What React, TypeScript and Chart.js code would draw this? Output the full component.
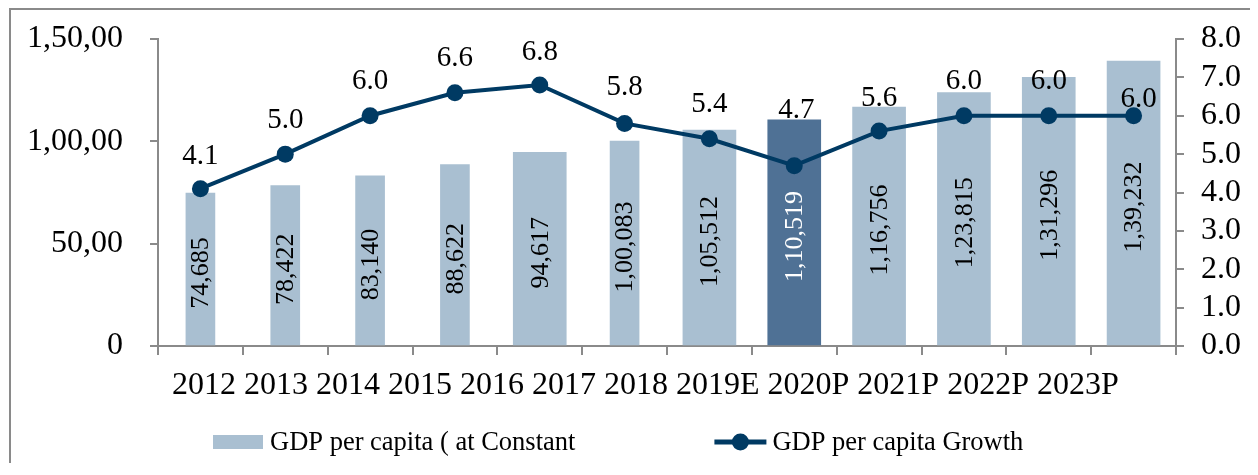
import React, { useEffect, useRef } from 'react';
import { Chart, registerables } from 'chart.js';

Chart.register(...registerables);

// ---------- data ----------
const categories = ['2012', '2013', '2014', '2015', '2016', '2017', '2018', '2019E', '2020P', '2021P', '2022P', '2023P'];
const gdpPerCapita = [74685, 78422, 83140, 88622, 94617, 100083, 105512, 110519, 116756, 123815, 131296, 139232];
const gdpValueLabels = ['74,685', '78,422', '83,140', '88,622', '94,617', '1,00,083', '1,05,512', '1,10,519', '1,16,756', '1,23,815', '1,31,296', '1,39,232'];
const gdpGrowth = [4.1, 5.0, 6.0, 6.6, 6.8, 5.8, 5.4, 4.7, 5.6, 6.0, 6.0, 6.0];
const leftTickValues = [0, 50000, 100000, 150000];
const leftTickText = ['0', '50,00', '1,00,00', '1,50,00'];
const legendLabels = ['GDP per capita ( at Constant', 'GDP per capita Growth'];

// ---------- styles ----------
const narrowBar = [true, true, true, true, false, true, false, false, false, false, false, false];
const highlightIndex = 7;
const LIGHT = '#A9BFD1';
const DARK = '#4F7195';
const NAVY = '#003A63';
const AXIS = '#8a8a8a';
const FONT = '"Liberation Serif", "Times New Roman", serif';
const growthLabelLift = [32, 34, 34, 34, 33, 36, 34, 55, 33, 34, 34, 16];
const growthLabelShift = [0, 0, 0, 0, 0, 0, 0, 2, 0, 0, 0, 5];

const barColors = gdpPerCapita.map((_, i) => (i === highlightIndex ? DARK : LIGHT));

const overlayPlugin = {
  id: 'overlay',
  afterDatasetsDraw(chart: any) {
    const ctx = chart.ctx;
    ctx.save();
    // bar value labels (rotated)
    ctx.font = `26px ${FONT}`;
    ctx.textAlign = 'center';
    ctx.textBaseline = 'middle';
    [0, 1].forEach((di) => {
      const meta = chart.getDatasetMeta(di);
      meta.data.forEach((el: any, i: number) => {
        const v = chart.data.datasets[di].data[i];
        if (v === null || v === undefined) return;
        const cy = (el.y + el.base) / 2 + 4;
        ctx.save();
        ctx.translate(el.x + 1, cy);
        ctx.rotate(-Math.PI / 2);
        ctx.fillStyle = i === highlightIndex ? '#ffffff' : '#000000';
        ctx.fillText(gdpValueLabels[i], 0, 0);
        ctx.restore();
      });
    });
    // growth labels
    const lmeta = chart.getDatasetMeta(2);
    ctx.font = `29px ${FONT}`;
    ctx.fillStyle = '#000000';
    lmeta.data.forEach((pt: any, i: number) => {
      ctx.fillText(gdpGrowth[i].toFixed(1), pt.x + growthLabelShift[i], pt.y - growthLabelLift[i]);
    });
    ctx.restore();
  },
  afterDraw(chart: any) {
    const ctx = chart.ctx;
    const area = chart.chartArea;
    ctx.save();
    // x-axis category labels, set as one line of text
    ctx.font = `32px ${FONT}`;
    ctx.fillStyle = '#000000';
    ctx.textAlign = 'left';
    ctx.textBaseline = 'alphabetic';
    ctx.fillText(categories.join(' '), area.left + 14, area.bottom + 48);

    // legend
    const ly = area.bottom + 96;
    let x = area.left + 55;
    ctx.fillStyle = LIGHT;
    ctx.fillRect(x, ly - 7, 50, 14);
    ctx.font = `26.5px ${FONT}`;
    ctx.fillStyle = '#000000';
    ctx.textBaseline = 'middle';
    ctx.fillText(legendLabels[0], x + 57, ly + 1);
    x = x + 57 + ctx.measureText(legendLabels[0]).width + 139;
    ctx.strokeStyle = NAVY;
    ctx.lineWidth = 5;
    ctx.beginPath();
    ctx.moveTo(x, ly);
    ctx.lineTo(x + 52, ly);
    ctx.stroke();
    ctx.fillStyle = NAVY;
    ctx.beginPath();
    ctx.arc(x + 26, ly, 8.5, 0, Math.PI * 2);
    ctx.fill();
    ctx.fillStyle = '#000000';
    ctx.fillText(legendLabels[1], x + 58, ly + 1);
    ctx.restore();
  },
};

export default function App() {
  const canvasRef = useRef<HTMLCanvasElement | null>(null);

  useEffect(() => {
    if (!canvasRef.current) return;
    const chart = new Chart(canvasRef.current, {
      type: 'bar',
      data: {
        labels: categories,
        datasets: [
          {
            type: 'bar',
            label: legendLabels[0],
            data: gdpPerCapita.map((v, i) => (narrowBar[i] ? v : null)),
            backgroundColor: barColors,
            barThickness: 29,
            grouped: false,
            yAxisID: 'y',
            order: 2,
          },
          {
            type: 'bar',
            label: legendLabels[0],
            data: gdpPerCapita.map((v, i) => (narrowBar[i] ? null : v)),
            backgroundColor: barColors,
            barThickness: 53,
            grouped: false,
            yAxisID: 'y',
            order: 2,
          },
          {
            type: 'line',
            label: legendLabels[1],
            data: gdpGrowth,
            borderColor: NAVY,
            backgroundColor: NAVY,
            borderWidth: 4,
            pointRadius: 8.5,
            pointBackgroundColor: NAVY,
            pointBorderColor: NAVY,
            pointBorderWidth: 0,
            tension: 0,
            yAxisID: 'y1',
            order: 0,
          },
        ],
      } as any,
      options: {
        animation: false,
        responsive: true,
        maintainAspectRatio: false,
        layout: { padding: { top: 29, left: 0, right: 0, bottom: 0 } },
        plugins: {
          legend: { display: false },
          tooltip: { enabled: false },
        },
        scales: {
          x: {
            type: 'category',
            offset: true,
            grid: {
              display: true,
              offset: true,
              drawOnChartArea: false,
              drawTicks: true,
              tickLength: 9,
              color: AXIS,
              lineWidth: 2,
            },
            border: { display: true, color: AXIS, width: 2 },
            ticks: { display: false },
            afterFit: (s: any) => {
              s.height = 129;
              s.paddingLeft = 0;
              s.paddingRight = 0;
            },
          },
          y: {
            position: 'left',
            min: 0,
            max: 150000,
            afterBuildTicks: (s: any) => {
              s.ticks = leftTickValues.map((v) => ({ value: v }));
            },
            ticks: {
              autoSkip: false,
              font: { family: FONT, size: 32, lineHeight: 1 },
              color: '#000000',
              padding: 27,
              callback: (v: any) => {
                const i = leftTickValues.indexOf(Number(v));
                return i >= 0 ? leftTickText[i] : '';
              },
            },
            grid: {
              display: true,
              drawOnChartArea: false,
              drawTicks: true,
              tickLength: 8,
              color: AXIS,
              lineWidth: 2,
            },
            border: { display: true, color: AXIS, width: 2 },
            afterFit: (s: any) => {
              s.width = 147;
              s.paddingTop = 0;
              s.paddingBottom = 0;
            },
          },
          y1: {
            position: 'right',
            min: 0,
            max: 8,
            ticks: {
              stepSize: 1,
              autoSkip: false,
              font: { family: FONT, size: 32, lineHeight: 1 },
              color: '#000000',
              padding: 17,
              callback: (v: any) => Number(v).toFixed(1),
            },
            grid: {
              display: true,
              drawOnChartArea: false,
              drawTicks: true,
              tickLength: 8,
              color: AXIS,
              lineWidth: 2,
            },
            border: { display: true, color: AXIS, width: 2 },
            afterFit: (s: any) => {
              s.width = 80;
              s.paddingTop = 0;
              s.paddingBottom = 0;
            },
          },
        },
      } as any,
      plugins: [overlayPlugin],
    });
    return () => chart.destroy();
  }, []);

  return (
    <div
      style={{
        width: 1245,
        height: 465,
        marginLeft: 1,
        marginBottom: -12,
        borderTop: `2px solid ${AXIS}`,
        borderLeft: `2px solid ${AXIS}`,
        borderRight: `2px solid ${AXIS}`,
        background: '#ffffff',
      }}
    >
      <div style={{ position: 'relative', width: 1245, height: 465 }}>
        <canvas ref={canvasRef} />
      </div>
    </div>
  );
}
